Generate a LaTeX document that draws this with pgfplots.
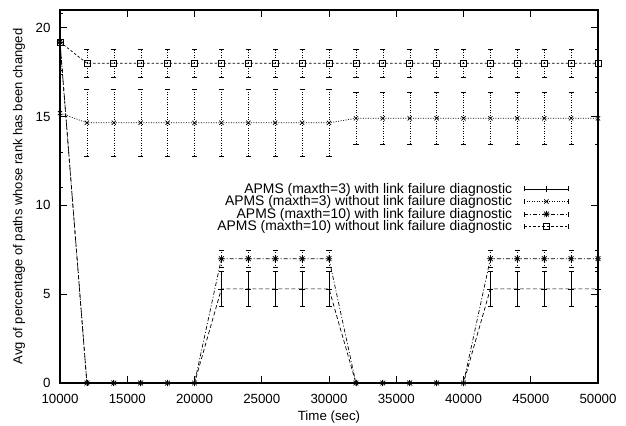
\documentclass[border=0pt]{standalone}
\usepackage{fontspec}
\setmainfont{Liberation Sans}
\usepackage{pgfplots}
\usepackage{pgfplotstable}
\pgfplotsset{compat=1.18}

% gnuplot-like star: plus and cross together
\pgfdeclareplotmark{gpstar}{%
  \pgfpathmoveto{\pgfqpoint{-\pgfplotmarksize}{0pt}}\pgfpathlineto{\pgfqpoint{\pgfplotmarksize}{0pt}}%
  \pgfpathmoveto{\pgfqpoint{0pt}{-\pgfplotmarksize}}\pgfpathlineto{\pgfqpoint{0pt}{\pgfplotmarksize}}%
  \pgfpathmoveto{\pgfqpoint{-0.75\pgfplotmarksize}{-0.75\pgfplotmarksize}}\pgfpathlineto{\pgfqpoint{0.75\pgfplotmarksize}{0.75\pgfplotmarksize}}%
  \pgfpathmoveto{\pgfqpoint{-0.75\pgfplotmarksize}{0.75\pgfplotmarksize}}\pgfpathlineto{\pgfqpoint{0.75\pgfplotmarksize}{-0.75\pgfplotmarksize}}%
  \pgfusepathqstroke}

\newcommand\gpfont{\fontsize{13.3bp}{15bp}\selectfont}
\newcommand\legfont{\fontsize{13.9bp}{15bp}\selectfont}
\newcommand\ylfont{\fontsize{13bp}{15bp}\selectfont}

% maxth=3 with diagnostic
\pgfplotstableread{
x y e
10000 19.2 8.2
12000 0 0
14000 0 0
16000 0 0
18000 0 0
20000 0 0
22000 5.3 1.0
24000 5.3 1.0
26000 5.3 1.0
28000 5.3 1.0
30000 5.3 1.0
32000 0 0
34000 0 0
36000 0 0
38000 0 0
40000 0 0
42000 5.3 1.0
44000 5.3 1.0
46000 5.3 1.0
48000 5.3 1.0
50000 5.3 1.0
}\withA

% maxth=3 without diagnostic
\pgfplotstableread{
x y e
10000 15.2 2.2
12000 14.65 1.9
14000 14.65 1.9
16000 14.65 1.9
18000 14.65 1.9
20000 14.65 1.9
22000 14.65 1.9
24000 14.65 1.9
26000 14.65 1.9
28000 14.65 1.9
30000 14.65 1.9
32000 14.9 1.45
34000 14.9 1.45
36000 14.9 1.45
38000 14.9 1.45
40000 14.9 1.45
42000 14.9 1.45
44000 14.9 1.45
46000 14.9 1.45
48000 14.9 1.45
50000 14.9 1.45
}\withoutA

% maxth=10 with diagnostic
\pgfplotstableread{
x y e
10000 19.2 0
12000 0 0
14000 0 0
16000 0 0
18000 0 0
20000 0 0
22000 7.0 0.5
24000 7.0 0.5
26000 7.0 0.5
28000 7.0 0.5
30000 7.0 0.5
32000 0 0
34000 0 0
36000 0 0
38000 0 0
40000 0 0
42000 7.0 0.5
44000 7.0 0.5
46000 7.0 0.5
48000 7.0 0.5
50000 7.0 0.5
}\withB

% maxth=10 without diagnostic
\pgfplotstableread{
x y e
10000 19.2 1.6
12000 18.0 0.8
14000 18.0 0.8
16000 18.0 0.8
18000 18.0 0.8
20000 18.0 0.8
22000 18.0 0.8
24000 18.0 0.8
26000 18.0 0.8
28000 18.0 0.8
30000 18.0 0.8
32000 18.0 0.8
34000 18.0 0.8
36000 18.0 0.8
38000 18.0 0.8
40000 18.0 0.8
42000 18.0 0.8
44000 18.0 0.8
46000 18.0 0.8
48000 18.0 0.8
50000 18.0 0.8
}\withoutB

\tikzset{
  dA/.style={dash pattern=on 4bp off 2.5bp},
  dB/.style={dash pattern=on 1bp off 1.5bp},
  dC/.style={dash pattern=on 4bp off 2bp on 1bp off 2bp},
  dD/.style={dash pattern=on 2.5bp off 2bp},
}

\newcommand\legimg[3]{% style, mark, mark size
  \draw[#1,line width=0.7bp] (0bp,0bp) -- (44bp,0bp);
  \draw[solid,line width=0.7bp] (0bp,-2.5bp) -- (0bp,2.5bp) (44bp,-2.5bp) -- (44bp,2.5bp);
  \draw[solid,line width=0.7bp] plot[mark=#2,mark size=#3] coordinates {(22bp,0bp)};
}

\begin{document}
\begin{tikzpicture}
\begin{axis}[
  scale only axis,
  width=538bp, height=373bp,
  xmin=10000, xmax=50000, ymin=0, ymax=21,
  xtick={10000,15000,...,50000},
  ytick={0,5,...,20},
  tick pos=both,
  tick align=inside,
  major tick length=7bp,
  tick style={line width=0.7bp, black},
  scaled x ticks=false,
  x tick label style={/pgf/number format/1000 sep={}, yshift=-8bp},
  y tick label style={xshift=-6bp},
  /pgf/number format/assume math mode=true,
  ticklabel style={font=\gpfont},
  xlabel={Time (sec)},
  ylabel={Avg of percentage of paths whose rank has been changed},
  x label style={font=\gpfont, at={(axis description cs:0.5,-0.0912)}, anchor=center},
  y label style={font=\ylfont, at={(axis description cs:-0.0762,0.5)}, anchor=center},
  axis line style={line width=1.2bp},
  every axis plot/.append style={line width=0.7bp, black},
  error bars/error mark options={rotate=90, mark size=2.6bp, solid},
  legend style={draw=none, fill=none, at={(0.9517,0.547)}, anchor=north east,
    font=\legfont, row sep=-3bp,
    /tikz/every odd column/.append style={column sep=10bp}},
  legend cell align=right,
  legend plot pos=right,
]
\addlegendimage{legend image code/.code={\legimg{solid}{+}{3bp}}}
\addlegendentry{APMS (maxth=3) with link failure diagnostic}
\addlegendimage{legend image code/.code={\legimg{dB}{x}{3bp}}}
\addlegendentry{APMS (maxth=3) without link failure diagnostic}
\addlegendimage{legend image code/.code={\legimg{dC}{gpstar}{3.2bp}}}
\addlegendentry{APMS (maxth=10) with link failure diagnostic}
\addlegendimage{legend image code/.code={\legimg{dD}{square}{3bp}}}
\addlegendentry{APMS (maxth=10) without link failure diagnostic}

\addplot[dA, mark=+, mark size=3bp, mark options={solid},
  error bars/.cd, y dir=both, y explicit, error bar style={solid}]
  table[x=x, y=y, y error=e] {\withA};
\addplot[dB, mark=x, mark size=3bp, mark options={solid},
  error bars/.cd, y dir=both, y explicit, error bar style={dB}]
  table[x=x, y=y, y error=e] {\withoutA};
\addplot[dC, mark=gpstar, mark size=3.2bp, mark options={solid},
  error bars/.cd, y dir=both, y explicit, error bar style={dC}]
  table[x=x, y=y, y error=e] {\withB};
\addplot[dD, mark=square, mark size=3bp, mark options={solid},
  error bars/.cd, y dir=both, y explicit, error bar style={dB}]
  table[x=x, y=y, y error=e] {\withoutB};
\end{axis}
\pgfresetboundingbox
\useasboundingbox (-60bp,-43bp) rectangle (566bp,383bp);
\end{tikzpicture}
\end{document}
